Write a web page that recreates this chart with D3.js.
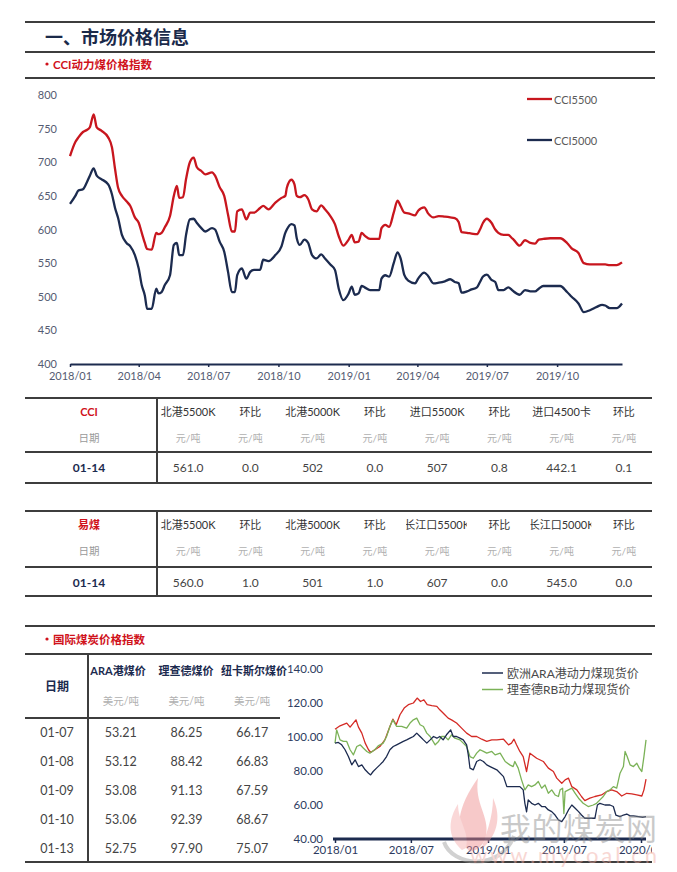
<!DOCTYPE html>
<html>
<head>
<meta charset="utf-8">
<script src="https://cdn.jsdelivr.net/npm/d3@7"></script>
<style>
body { margin: 0; background: #fff; }
svg text { font-family: Lato, "Noto Sans CJK SC", sans-serif; }
</style>
</head>
<body>
<svg id="page" width="677" height="872"></svg>
<script>
// ---- CCI 动力煤价格指数 ----
const cciDates = [
	"2018-01-01","2018-01-08","2018-01-12","2018-01-18","2018-01-23","2018-01-27","2018-02-01","2018-02-05",
	"2018-02-11","2018-02-20","2018-02-25","2018-03-01","2018-03-05","2018-03-10","2018-03-16","2018-03-21",
	"2018-03-27","2018-04-01","2018-04-05","2018-04-09","2018-04-12","2018-04-18","2018-04-24","2018-04-27",
	"2018-05-01","2018-05-05","2018-05-12","2018-05-17","2018-05-21","2018-05-24","2018-05-29","2018-06-02",
	"2018-06-07","2018-06-12","2018-06-16","2018-06-22","2018-06-27","2018-07-06","2018-07-10","2018-07-16",
	"2018-07-22","2018-07-27","2018-08-01","2018-08-05","2018-08-08","2018-08-14","2018-08-20","2018-08-25",
	"2018-08-30","2018-09-07","2018-09-11","2018-09-18","2018-09-27","2018-10-05","2018-10-10","2018-10-12",
	"2018-10-18","2018-10-22","2018-10-25","2018-10-29","2018-11-04","2018-11-09","2018-11-14","2018-11-20",
	"2018-11-26","2018-12-01","2018-12-08","2018-12-14","2018-12-19","2018-12-25","2019-01-01","2019-01-05",
	"2019-01-09","2019-01-14","2019-01-18","2019-01-22","2019-01-29","2019-02-10","2019-02-13","2019-02-18",
	"2019-02-23","2019-03-01","2019-03-06","2019-03-10","2019-03-15","2019-03-20","2019-03-29","2019-04-02",
	"2019-04-10","2019-04-15","2019-04-22","2019-04-29","2019-05-07","2019-05-14","2019-05-20","2019-05-25",
	"2019-05-29","2019-06-05","2019-06-11","2019-06-18","2019-06-22","2019-06-26","2019-07-01","2019-07-07",
	"2019-07-12","2019-07-16","2019-07-23","2019-07-29","2019-08-03","2019-08-05","2019-08-13","2019-08-20",
	"2019-08-27","2019-09-02","2019-09-07","2019-09-13","2019-09-22","2019-10-05","2019-10-14","2019-10-20",
	"2019-10-29","2019-11-05","2019-11-13","2019-11-22","2019-11-29","2019-12-03","2019-12-09","2019-12-18",
	"2019-12-25"];
const cci5500 = [
	709,730,737,745,748,752,771,752, 747,737,722,690,662,650,642,635,
	618,610,595,580,571,570,595,593, 595,603,620,650,665,647,648,675,
	700,707,693,687,682,685,680,663, 650,622,597,597,627,630,615,625,
	625,632,635,630,640,647,650,662, 674,667,650,648,651,645,630,627,
	636,630,620,608,590,576,585,592, 581,582,595,591,586,586,602,607,
	604,625,643,635,625,624,621,628, 633,624,618,620,619,618,617,611,
	596,595,594,593,600,610,616,610, 600,595,592,592,587,585,576,584,
	580,579,585,586,587,587,580,572, 565,550,548,548,548,548,547,547,
	551];
const cci5000 = [
	638,650,658,660,670,680,691,680, 675,667,652,632,617,592,580,575,
	562,542,517,502,482,482,512,505, 507,517,532,577,580,562,562,592,
	615,616,610,602,597,602,600,582, 567,537,507,507,532,542,527,537,
	540,540,555,553,562,575,595,600, 608,606,587,577,585,580,562,557,
	563,557,548,540,512,495,505,515, 503,505,516,514,510,510,527,532,
	530,550,566,557,532,524,520,527, 536,531,520,521,523,526,522,520,
	506,508,511,514,522,530,533,525, 522,510,510,514,510,508,503,510,
	508,508,512,516,516,516,507,500, 490,477,480,485,488,487,483,483,
	490];
const cciNames = ["CCI5500", "CCI5000"];

// ---- 价格表 ----
const cciHead = ["北港5500K","环比","北港5000K","环比","进口5500K","环比","进口4500卡","环比"];
const cciRow = ["561.0","0.0","502","0.0","507","0.8","442.1","0.1"];
const ymHead = ["北港5500K","环比","北港5000K","环比","长江口5500K","环比","长江口5000K","环比"];
const ymRow = ["560.0","1.0","501","1.0","607","0.0","545.0","0.0"];
const tableDay = "01-14";

// ---- 国际煤炭价格指数 ----
const intlHead = ["ARA港煤价","理查德煤价","纽卡斯尔煤价"];
const intlDays = ["01-07","01-08","01-09","01-10","01-13"];
const araPrice = ["53.21","53.12","53.08","53.06","52.75"];
const rbPrice = ["86.25","88.42","91.13","92.39","97.90"];
const ncPrice = ["66.17","66.83","67.59","68.67","75.07"];

const araSpot = [
	["2018-01-01",96.4],["2018-01-09",96.8],["2018-01-17",95.4],["2018-01-25",92.5],["2018-02-02",88.5],
	["2018-02-10",83.6],["2018-02-18",86.6],["2018-02-26",82.6],["2018-03-06",83.6],["2018-03-14",80.7],
	["2018-03-22",78.7],["2018-03-27",77.7],["2018-04-02",79.7],["2018-04-10",81.7],["2018-04-18",83.6],
	["2018-04-26",85.6],["2018-05-04",88.5],["2018-05-12",92.5],["2018-05-20",94.4],["2018-05-28",95.4],
	["2018-06-05",96.4],["2018-06-13",97.4],["2018-06-21",98.3],["2018-06-29",99.3],["2018-07-07",100.3],
	["2018-07-15",102.3],["2018-07-23",100.3],["2018-07-31",98.3],["2018-08-08",96.4],["2018-08-16",98.3],
	["2018-08-24",100.3],["2018-09-01",99.3],["2018-09-08",100.3],["2018-09-16",98.3],["2018-09-24",101.3],
	["2018-10-04",104.2],["2018-10-10",100.3],["2018-10-18",100.3],["2018-10-26",99.3],["2018-11-03",98.3],
	["2018-11-11",95.4],["2018-11-15",89.5],["2018-11-19",81.7],["2018-11-27",80.7],["2018-12-05",85.6],
	["2018-12-13",86.6],["2018-12-21",85.6],["2018-12-29",83.6],["2019-01-06",82.6],["2019-01-22",80.7],
	["2019-02-07",76.7],["2019-02-15",70.8],["2019-03-02",70.8],["2019-03-18",70.8],["2019-03-26",68.9],
	["2019-03-30",61.0],["2019-04-03",56.0],["2019-04-07",63.0],["2019-04-15",61.0],["2019-04-23",60.0],
	["2019-05-01",61.0],["2019-05-09",59.1],["2019-05-17",59.1],["2019-05-25",57.1],["2019-06-02",56.1],
	["2019-06-10",54.1],["2019-06-18",51.2],["2019-06-26",50.2],["2019-07-04",53.2],["2019-07-12",57.1],
	["2019-07-20",60.0],["2019-07-28",58.1],["2019-08-05",56.1],["2019-08-12",54.1],["2019-08-20",52.2],
	["2019-09-01",52.2],["2019-09-13",52.2],["2019-09-19",60.0],["2019-09-25",61.0],["2019-10-07",60.0],
	["2019-10-19",60.0],["2019-10-27",59.1],["2019-11-02",54.1],["2019-11-12",53.2],["2019-11-20",54.1],
	["2019-11-28",54.7],["2019-12-06",53.6],["2019-12-14",53.6],["2019-12-26",53.2],["2020-01-05",52.8],
	["2020-01-13",53.2]];
const rbSpot = [
	["2018-01-01",96.4],["2018-01-05",104.2],["2018-01-13",98.3],["2018-01-21",97.4],["2018-01-29",97.4],
	["2018-02-06",92.5],["2018-02-14",89.5],["2018-02-22",94.4],["2018-03-02",95.4],["2018-03-10",93.4],
	["2018-03-18",91.5],["2018-03-25",90.5],["2018-04-06",92.5],["2018-04-14",94.8],["2018-04-26",96.4],
	["2018-05-04",100.3],["2018-05-12",106.2],["2018-05-19",110.1],["2018-05-28",106.2],["2018-06-09",106.2],
	["2018-06-21",105.2],["2018-06-29",108.2],["2018-07-07",110.1],["2018-07-15",111.1],["2018-07-23",107.2],
	["2018-07-31",106.2],["2018-08-08",102.3],["2018-08-16",100.3],["2018-08-28",95.4],["2018-09-05",97.4],
	["2018-09-12",100.3],["2018-09-20",100.3],["2018-09-28",98.3],["2018-10-06",101.3],["2018-10-14",99.3],
	["2018-10-26",98.3],["2018-11-03",96.4],["2018-11-11",94.4],["2018-11-19",88.5],["2018-11-27",87.5],
	["2018-12-05",90.5],["2018-12-13",92.5],["2018-12-21",91.5],["2018-12-29",90.5],["2019-01-10",91.5],
	["2019-01-18",89.5],["2019-01-30",90.5],["2019-02-11",85.6],["2019-02-22",83.6],["2019-03-02",82.6],
	["2019-03-06",85.6],["2019-03-14",81.7],["2019-03-22",74.8],["2019-03-30",68.9],["2019-04-07",71.8],
	["2019-04-15",70.8],["2019-04-23",71.8],["2019-05-01",73.8],["2019-05-09",69.9],["2019-05-17",71.8],
	["2019-05-25",66.9],["2019-06-02",68.9],["2019-06-10",65.9],["2019-06-18",65.0],["2019-06-22",68.9],
	["2019-06-28",69.9],["2019-07-01",55.0],["2019-07-04",67.9],["2019-07-12",68.9],["2019-07-20",69.9],
	["2019-07-28",66.9],["2019-08-05",64.0],["2019-08-16",61.0],["2019-08-28",59.1],["2019-09-09",60.0],
	["2019-09-17",61.0],["2019-09-25",63.0],["2019-10-03",65.0],["2019-10-11",67.9],["2019-10-19",68.9],
	["2019-10-27",70.8],["2019-11-04",69.9],["2019-11-12",78.7],["2019-11-20",82.6],["2019-11-24",91.5],
	["2019-11-29",88.5],["2019-12-06",83.6],["2019-12-14",82.6],["2019-12-22",84.6],["2019-12-28",81.7],
	["2020-01-03",79.7],["2020-01-08",88.5],["2020-01-13",98.3]];
const ncSpot = [
	["2018-01-01",104.6],["2018-01-13",106.6],["2018-01-29",108.2],["2018-02-06",105.8],["2018-02-20",110.1],
	["2018-02-26",105.8],["2018-03-06",102.3],["2018-03-14",96.4],["2018-03-22",92.5],["2018-03-27",90.9],
	["2018-04-06",92.5],["2018-04-18",94.4],["2018-04-30",98.3],["2018-05-12",106.2],["2018-05-19",110.5],
	["2018-05-27",107.2],["2018-06-05",113.1],["2018-06-15",117.0],["2018-06-25",119.0],["2018-07-07",120.0],
	["2018-07-16",122.9],["2018-07-24",120.9],["2018-08-01",121.9],["2018-08-09",119.0],["2018-08-20",118.4],
	["2018-09-01",118.0],["2018-09-08",116.0],["2018-09-20",113.1],["2018-09-28",111.1],["2018-10-06",110.1],
	["2018-10-18",108.2],["2018-10-30",105.2],["2018-11-11",102.3],["2018-11-23",100.3],["2018-12-05",100.3],
	["2018-12-17",98.7],["2018-12-29",97.4],["2019-01-10",98.3],["2019-01-22",98.3],["2019-02-07",98.7],
	["2019-02-19",95.4],["2019-02-26",96.4],["2019-03-04",98.7],["2019-03-10",95.4],["2019-03-18",91.5],
	["2019-03-26",88.5],["2019-04-03",79.7],["2019-04-11",90.5],["2019-04-27",87.5],["2019-05-13",85.6],
	["2019-05-25",81.7],["2019-06-06",79.7],["2019-06-14",75.8],["2019-06-26",72.8],["2019-07-04",74.8],
	["2019-07-12",75.8],["2019-07-20",70.8],["2019-08-01",68.9],["2019-08-12",65.0],["2019-08-20",62.6],
	["2019-09-01",64.0],["2019-09-13",65.0],["2019-09-29",65.9],["2019-10-11",67.9],["2019-10-23",68.9],
	["2019-11-04",67.9],["2019-11-16",65.3],["2019-11-28",66.9],["2019-12-10",66.5],["2019-12-22",65.9],
	["2020-01-03",65.3],["2020-01-08",68.9],["2020-01-13",75.2]];
const intlNames = ["欧洲ARA港动力煤现货价", "理查德RB动力煤现货价"];

const parse = d3.timeParse("%Y-%m-%d");
const navy = "#1c2b4f", red = "#c8161e", green = "#7bb257";
const ruleColor = "#3d3d3d";
const svg = d3.select("#page");

function rule(x1, x2, y, w = 2) {
	svg.append("line")
		.attr("x1", x1).attr("x2", x2).attr("y1", y).attr("y2", y)
		.attr("stroke", ruleColor).attr("stroke-width", w);
}

function label(x, y, txt, size, fill, weight = "normal", anchor = "middle") {
	return svg.append("text")
		.attr("x", x).attr("y", y)
		.attr("dominant-baseline", "central")
		.attr("text-anchor", anchor)
		.attr("font-size", size)
		.attr("font-weight", weight)
		.attr("fill", fill)
		.text(txt);
}

// small red bullet + section title
function section(y, txt) {
	svg.append("circle").attr("cx", 47).attr("cy", y).attr("r", 1.6).attr("fill", "#d0121b");
	label(53, y, txt, 11.5, "#d0121b", "bold", "start");
}

// ---- 页眉 ----
rule(25, 655, 22);
label(45, 37, "一、市场价格信息", 18, "#1b2a4a", "bold", "start");
rule(25, 655, 52);
section(64, "CCI动力煤价格指数");
rule(25, 655, 78);

// ---- CCI 折线图 ----
const x1 = d3.scaleTime().domain([parse(cciDates[0]), parse(cciDates[cciDates.length - 1])]).range([70, 622]);
const y1 = d3.scaleLinear().domain([400, 800]).range([364, 95]);

const yAx1 = svg.append("g")
	.attr("transform", "translate(60,0)")
	.call(d3.axisLeft(y1).tickValues(d3.range(400, 801, 50)).tickSize(0).tickPadding(3));
yAx1.select(".domain").remove();
yAx1.selectAll("text").attr("font-size", 11).attr("fill", "#545b72");

const xAx1 = svg.append("g")
	.attr("transform", `translate(0,${y1(400)})`)
	.call(d3.axisBottom(x1).ticks(d3.timeMonth.every(3)).tickFormat(d3.timeFormat("%Y/%m"))
		.tickSizeInner(3).tickSizeOuter(0).tickPadding(5));
xAx1.select(".domain").attr("stroke", navy).attr("stroke-width", 2);
xAx1.selectAll(".tick line").attr("stroke", navy).attr("stroke-width", 1.5);
xAx1.selectAll("text").attr("font-size", 11).attr("fill", "#545b72");

const cciLine = d3.line()
	.x(d => x1(d.date))
	.y(d => y1(d.v))
	.curve(d3.curveMonotoneX);

[[cci5500, red], [cci5000, navy]].forEach(([vals, colour], i) => {
	const pts = cciDates.map((d, k) => ({date: parse(d), v: vals[k]}));
	svg.append("path")
		.datum(pts)
		.attr("d", cciLine)
		.attr("fill", "none")
		.attr("stroke", colour)
		.attr("stroke-width", 2.3)
		.attr("stroke-linejoin", "round");

	const ly = 99 + i * 41;
	svg.append("line").attr("x1", 527).attr("x2", 552).attr("y1", ly).attr("y2", ly)
		.attr("stroke", colour).attr("stroke-width", 2.3);
	label(554, ly, cciNames[i], 11, "#5a5a5a", "normal", "start");
});

// ---- 价格表 ----
const cols = d3.scaleBand().domain(d3.range(8)).range([157, 655]);

function priceTable(top, mid, bottom, title, heads, row) {
	rule(25, 652, top);
	rule(25, 652, mid);
	rule(25, 652, bottom);
	svg.append("line").attr("x1", 157).attr("x2", 157).attr("y1", top).attr("y2", bottom)
		.attr("stroke", ruleColor).attr("stroke-width", 2);

	label(89, top + 13, title, 11, "#d0121b", "bold");
	label(89, top + 40, "日期", 10.5, "#9a9a9a");
	label(89, mid + 15, tableDay, 12, navy, "bold");

	heads.forEach((h, i) => {
		const cid = `clip-${top}-${i}`;
		svg.append("clipPath").attr("id", cid).append("rect")
			.attr("x", cols(i)).attr("y", top).attr("width", cols.bandwidth() - 1.5).attr("height", 30);
		label(cols(i) + cols.bandwidth() / 2, top + 13, h, 11, "#333").attr("clip-path", `url(#${cid})`);
		label(cols(i) + cols.bandwidth() / 2, top + 40, "元/吨", 10, "#b0b0b0");
		label(cols(i) + cols.bandwidth() / 2, mid + 15, row[i], 12, "#444");
	});
}

priceTable(398, 452, 483, "CCI", cciHead, cciRow);
priceTable(511, 567, 596, "易煤", ymHead, ymRow);

// ---- 国际煤炭价格指数 ----
rule(25, 655, 626);
section(639, "国际煤炭价格指数");
rule(25, 652, 654);
rule(25, 280, 718);
rule(25, 652, 862);
svg.append("line").attr("x1", 88).attr("x2", 88).attr("y1", 654).attr("y2", 862)
	.attr("stroke", ruleColor).attr("stroke-width", 2);

const icol = d3.scaleBand().domain(d3.range(3)).range([88, 285]);
const irow = d3.scalePoint().domain(intlDays).range([732, 848]);
const headX = [118, 186, 254];

label(57, 686, "日期", 12, navy, "bold");
intlHead.forEach((h, i) => {
	label(headX[i], 670, h, 11, navy, "bold");
	label(icol(i) + icol.bandwidth() / 2, 701, "美元/吨", 10.5, "#b0b0b0");
});
[araPrice, rbPrice, ncPrice].forEach((vals, i) => {
	const cx = icol(i) + icol.bandwidth() / 2;
	vals.forEach((v, k) => label(cx, irow(intlDays[k]), v, 12.5, "#444"));
});
intlDays.forEach(d => label(57, irow(d), d, 12.5, "#444"));

// ---- 国际煤价折线图 ----
const lastDay = parse(araSpot[araSpot.length - 1][0]);
const x2 = d3.scaleTime().domain([parse("2018-01-01"), parse("2020-01-01")]).range([335, 641]);
const y2 = d3.scaleLinear().domain([40, 140]).range([839, 669]);

const yAx2 = svg.append("g")
	.attr("transform", "translate(326,0)")
	.call(d3.axisLeft(y2).ticks(5).tickFormat(d3.format(".2f")).tickSize(0).tickPadding(3));
yAx2.select(".domain").remove();
yAx2.selectAll("text").attr("font-size", 11.5).attr("fill", "#2c3a5e");

svg.append("clipPath").attr("id", "clip-x2").append("rect")
	.attr("x", 300).attr("y", 830).attr("width", 352).attr("height", 40);
const xAx2 = svg.append("g")
	.attr("clip-path", "url(#clip-x2)")
	.append("g")
	.attr("transform", `translate(0,${y2(40)})`)
	.call(d3.axisBottom(x2).ticks(d3.timeMonth.every(6)).tickFormat(d3.timeFormat("%Y/%m"))
		.tickSizeInner(4).tickSizeOuter(0).tickPadding(3));
xAx2.select(".domain").remove();
xAx2.selectAll(".tick line").attr("stroke", navy).attr("stroke-width", 1.5);
xAx2.selectAll("text").attr("font-size", 11.5).attr("fill", "#2c3a5e");
svg.append("line")
	.attr("x1", x2.range()[0] - 2).attr("x2", x2(lastDay))
	.attr("y1", y2(40)).attr("y2", y2(40))
	.attr("stroke", navy).attr("stroke-width", 3);

const spotLine = d3.line()
	.x(d => x2(parse(d[0])))
	.y(d => y2(d[1]));

[[ncSpot, "#d42a25"], [rbSpot, green], [araSpot, navy]].forEach(([series, colour]) => {
	svg.append("path")
		.datum(series)
		.attr("d", spotLine)
		.attr("fill", "none")
		.attr("stroke", colour)
		.attr("stroke-width", 1.3)
		.attr("stroke-linejoin", "round");
});

[navy, green].forEach((colour, i) => {
	const ly = 673 + i * 16.5;
	svg.append("line").attr("x1", 482).attr("x2", 503).attr("y1", ly).attr("y2", ly)
		.attr("stroke", colour).attr("stroke-width", 1.5);
	label(507, ly, intlNames[i], 12, "#4a4a4a", "normal", "start");
});

// ---- 水印 ----
const mark = svg.append("g").attr("opacity", 0.45);
mark.append("path")
	.attr("d", "M470,852 C452,832 458,806 478,778 C474,804 490,816 486,836 C484,845 478,850 470,852 Z")
	.attr("fill", "#ef8a8a");
mark.append("path")
	.attr("d", "M462,850 C446,836 449,818 458,804 C458,822 470,832 466,848 Z")
	.attr("fill", "#f4a9a9");
mark.append("path")
	.attr("d", "M481,850 C497,836 502,818 493,798 C493,818 486,834 481,850 Z")
	.attr("fill", "#f29a9a");
mark.append("path")
	.attr("d", "M444,842 C452,866 500,872 514,836")
	.attr("fill", "none").attr("stroke", "#9a9a9a").attr("stroke-width", 4);
mark.append("text")
	.attr("x", 500).attr("y", 840)
	.attr("font-size", 31).attr("fill", "#8a8a8a")
	.attr("textLength", 157)
	.text("我的煤炭网");
mark.append("text")
	.attr("x", 470).attr("y", 863)
	.attr("font-size", 22).attr("fill", "#f0a8a0")
	.attr("textLength", 187)
	.text("www.mycoal.cn");
</script>
</body>
</html>
